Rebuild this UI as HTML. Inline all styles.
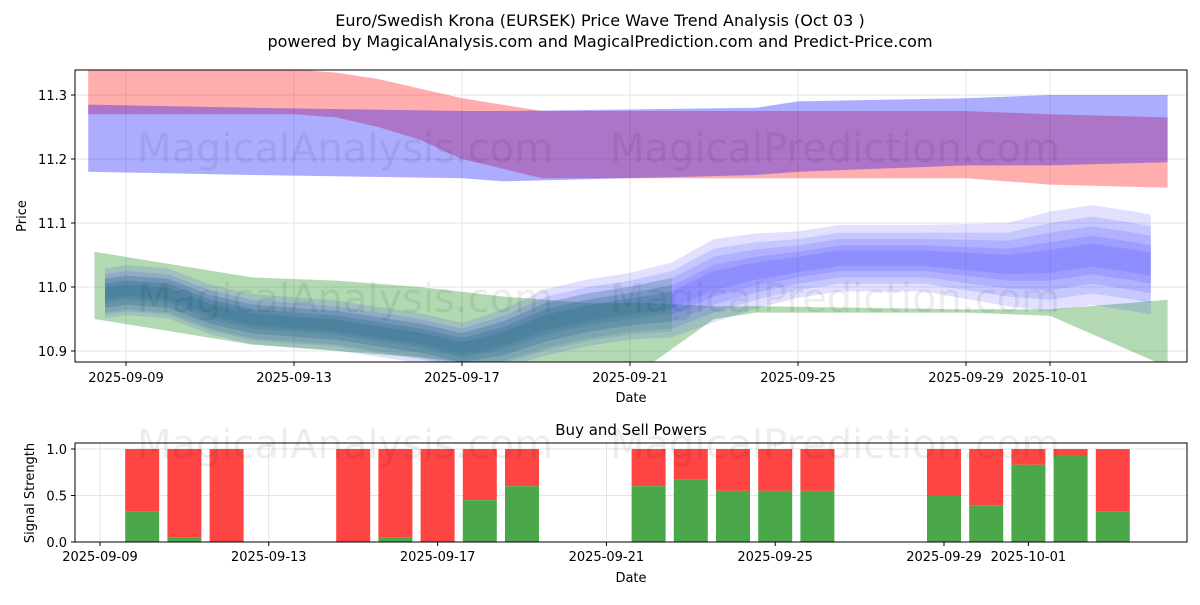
<!DOCTYPE html>
<html><head><meta charset="utf-8">
<style>
body{margin:0;background:#fff;font-family:"Liberation Sans","DejaVu Sans",sans-serif;}
svg text{font-family:"DejaVu Sans","Liberation Sans",sans-serif;}
</style></head>
<body>
<svg id="chart" width="1200" height="600" xmlns="http://www.w3.org/2000/svg">
<text x="600" y="26" text-anchor="middle" font-size="16">Euro/Swedish Krona (EURSEK) Price Wave Trend Analysis (Oct 03 )</text>
<text x="600" y="47" text-anchor="middle" font-size="16">powered by MagicalAnalysis.com and MagicalPrediction.com and Predict-Price.com</text>
<g id="topPanel"></g>
<g id="botPanel"></g>
</svg>
<script>
const NS="http://www.w3.org/2000/svg";
// ---- data ----
const dateTicks=["2025-09-09","2025-09-13","2025-09-17","2025-09-21","2025-09-25","2025-09-29","2025-10-01"];
const dateTickDays=[0,4,8,12,16,20,22];
const priceTicks=[10.9,11.0,11.1,11.2,11.3];
const redDays=[-0.9,2,4,5,6,7,8,9.9,15,20,22,24.8];
const redTop=[11.34,11.34,11.34,11.335,11.325,11.31,11.295,11.275,11.275,11.275,11.27,11.265];
const redBot=[11.27,11.27,11.27,11.265,11.25,11.23,11.2,11.17,11.17,11.17,11.16,11.155];
const blueDays=[-0.9,3,8,9,15,16,20,22,24.8];
const blueTop=[11.285,11.28,11.275,11.275,11.28,11.29,11.295,11.30,11.30];
const blueBot=[11.18,11.175,11.17,11.165,11.175,11.18,11.19,11.19,11.195];
const greenDays=[-0.75,3,5,7,9,11,12.5,14,15,20,22,24.8];
const greenTop=[11.055,11.015,11.01,11.0,10.985,10.975,10.975,10.97,10.97,10.965,10.965,10.98];
const greenBot=[10.95,10.91,10.90,10.89,10.875,10.875,10.88,10.95,10.96,10.96,10.955,10.875];
const waveDays=[-0.5,0,1,2,3,4,5,6,7,8,9,10,11,12,13,14,15,16,17,18,19,20,21,22,23,24,24.4];
const waveMid=[10.99,10.995,10.99,10.965,10.95,10.945,10.94,10.93,10.92,10.905,10.92,10.945,10.96,10.97,10.98,11.01,11.025,11.035,11.045,11.045,11.045,11.04,11.035,11.04,11.05,11.04,11.035];
const waveSpread=[0.03,0.03,0.03,0.03,0.03,0.03,0.03,0.03,0.03,0.03,0.035,0.04,0.04,0.04,0.045,0.05,0.045,0.04,0.04,0.04,0.04,0.045,0.05,0.06,0.06,0.06,0.06];
const sigDays=[1,2,3,6,7,8,9,10,13,14,15,16,17,20,21,22,23,24];
const buyPower=[0.33,0.05,0,0,0.05,0,0.45,0.6,0.6,0.67,0.55,0.55,0.55,0.5,0.39,0.83,0.93,0.33];
const sigTicks=[0,0.5,1.0];
// ---- axes ----
const T={l:75,r:1187,t:70,b:362};
const xT=d=>126+d*42;
const yT=p=>287-(p-11.0)*640;
const B={l:75,r:1187,t:443,b:542};
const xB=d=>100+d*42.2;
const yB=v=>542-v*93;
const topG=document.getElementById('topPanel'),botG=document.getElementById('botPanel');
function el(tag,attrs,parent){const e=document.createElementNS(NS,tag);for(const k in attrs)e.setAttribute(k,attrs[k]);parent.appendChild(e);return e;}
function band(days,up,lo,fill,op,name){
  let pts=days.map((d,i)=>xT(d)+","+yT(up[i]));
  pts=pts.concat(days.map((d,i)=>xT(d)+","+yT(lo[i])).reverse());
  const p=el('polygon',{points:pts.join(" "),fill:fill,'fill-opacity':op,'clip-path':'url(#clipT)'},topG);
  
  
}
const defs=el('defs',{},topG);
const cp=el('clipPath',{id:'clipT'},defs);el('rect',{x:T.l,y:T.t,width:T.r-T.l,height:T.b-T.t},cp);
priceTicks.forEach(p=>{const y=yT(p);el('line',{x1:T.l,x2:T.r,y1:y,y2:y,stroke:'#ddd','stroke-width':0.8},topG);
 el('line',{x1:T.l-4,x2:T.l,y1:y,y2:y,stroke:'#000'},topG);
 const t=el('text',{x:T.l-8,y:y+5,'text-anchor':'end','font-size':13},topG);t.textContent=p.toFixed(1);
 });
dateTickDays.forEach((d,i)=>{const x=xT(d);el('line',{x1:x,x2:x,y1:T.t,y2:T.b,stroke:'#ddd','stroke-width':0.8},topG);
 el('line',{x1:x,x2:x,y1:T.b,y2:T.b+4,stroke:'#000'},topG);
 const t=el('text',{x:x,y:T.b+20,'text-anchor':'middle','font-size':13},topG);t.textContent=dateTicks[i];
 });
band(redDays,redTop,redBot,'#ff0000',0.32,'red-band');
band(blueDays,blueTop,blueBot,'#0000ff',0.32,'blue-band');
band(greenDays,greenTop,greenBot,'#008000',0.3,'green-band');
const facs=[1.3,1.0,0.75,0.5,0.3];
facs.forEach(f=>{
  band(waveDays,waveMid.map((m,i)=>m+waveSpread[i]*f),waveMid.map((m,i)=>m-waveSpread[i]*f),'#3333ff',0.15,'blue-wave-band');
});
const gi=waveDays.filter(d=>d<=13.5).length;
[1.1,0.75,0.4].forEach(f=>{
  band(waveDays.slice(0,gi),waveMid.slice(0,gi).map((m,i)=>m+waveSpread[i]*f*0.7),waveMid.slice(0,gi).map((m,i)=>m-waveSpread[i]*f*1.0),'#2e8b57',0.18,'green-wave-band');
});
el('rect',{x:T.l,y:T.t,width:T.r-T.l,height:T.b-T.t,fill:'none',stroke:'#000','stroke-width':1},topG);
let t;
t=el('text',{x:631,y:T.b+40,'text-anchor':'middle','font-size':13},topG);t.textContent='Date';
t=el('text',{x:26,y:216,'text-anchor':'middle','font-size':13,transform:'rotate(-90 26 216)'},topG);t.textContent='Price';
t=el('text',{x:345,y:162,'text-anchor':'middle','font-size':40,fill:'#000','fill-opacity':0.07},topG);t.textContent='MagicalAnalysis.com';
t=el('text',{x:835,y:162,'text-anchor':'middle','font-size':40,fill:'#000','fill-opacity':0.07},topG);t.textContent='MagicalPrediction.com';
t=el('text',{x:345,y:312,'text-anchor':'middle','font-size':40,fill:'#000','fill-opacity':0.07},topG);t.textContent='MagicalAnalysis.com';
t=el('text',{x:835,y:312,'text-anchor':'middle','font-size':40,fill:'#000','fill-opacity':0.07},topG);t.textContent='MagicalPrediction.com';
sigTicks.forEach(v=>{const y=yB(v);el('line',{x1:B.l,x2:B.r,y1:y,y2:y,stroke:'#ddd','stroke-width':0.8},botG);
 el('line',{x1:B.l-4,x2:B.l,y1:y,y2:y,stroke:'#000'},botG);
 const tt=el('text',{x:B.l-8,y:y+5,'text-anchor':'end','font-size':13},botG);tt.textContent=v.toFixed(1);
 });
dateTickDays.forEach((d,i)=>{const x=xB(d);el('line',{x1:x,x2:x,y1:B.t,y2:B.b,stroke:'#ddd','stroke-width':0.8},botG);
 el('line',{x1:x,x2:x,y1:B.b,y2:B.b+4,stroke:'#000'},botG);
 const tt=el('text',{x:x,y:B.b+19,'text-anchor':'middle','font-size':13},botG);tt.textContent=dateTicks[i];
 });
sigDays.forEach((d,i)=>{
  const x=xB(d)-17,w=34;
  const r=el('rect',{x:x,y:yB(1),width:w,height:yB(buyPower[i])-yB(1),fill:'#ff4444'},botG);
  
  
  const g=el('rect',{x:x,y:yB(buyPower[i]),width:w,height:B.b-yB(buyPower[i]),fill:'#4aa84a'},botG);
  
  
});
el('rect',{x:B.l,y:B.t,width:B.r-B.l,height:B.b-B.t,fill:'none',stroke:'#000','stroke-width':1},botG);
t=el('text',{x:631,y:435,'text-anchor':'middle','font-size':15},botG);t.textContent='Buy and Sell Powers';
t=el('text',{x:631,y:582,'text-anchor':'middle','font-size':13},botG);t.textContent='Date';
t=el('text',{x:34,y:493,'text-anchor':'middle','font-size':13,transform:'rotate(-90 34 493)'},botG);t.textContent='Signal Strength';
t=el('text',{x:345,y:458,'text-anchor':'middle','font-size':40,fill:'#000','fill-opacity':0.07},botG);t.textContent='MagicalAnalysis.com';
t=el('text',{x:835,y:458,'text-anchor':'middle','font-size':40,fill:'#000','fill-opacity':0.07},botG);t.textContent='MagicalPrediction.com';
</script>
</body></html>
